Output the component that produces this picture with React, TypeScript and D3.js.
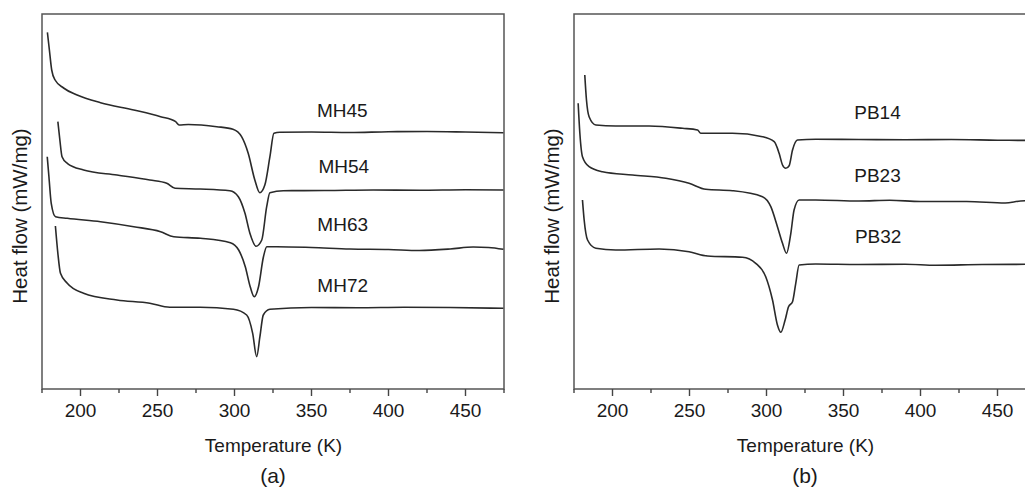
import React from "react";
import * as d3 from "d3";

type Pt = [number, number];

// Temperature (K) vs heat flow (arbitrary offset units, curves stacked)
const mh45: Pt[] = [
  [178.5, 356.7], [179.8, 339], [181.3, 319], [183.5, 309], [189, 301], [197.8, 294],
  [213, 286.3], [234.6, 279], [252, 272.3], [261.8, 267.3], [264, 264], [270, 264.5],
  [288.5, 262.3], [299, 259.7], [304.6, 252.3], [308.9, 235.7], [313.2, 209], [316.4, 196.3],
  [319.7, 204], [323, 232.3], [325.6, 255.7], [329.5, 256.7], [350, 257], [375, 256.5],
  [400, 257.3], [425, 257.5], [450, 257], [474.6, 256.3],
];
const mh54: Pt[] = [
  [185.3, 267.3], [186.6, 249], [188, 232.3], [191.4, 225.7], [202, 219], [223.7, 214],
  [245, 209], [256, 205.7], [261.4, 200.7], [277.7, 200], [297, 198.3], [302.5, 192.3],
  [306.8, 175.7], [310, 155.7], [314, 142.7], [317.7, 149], [320.9, 182.3], [323, 196.3],
  [331.7, 198.3], [360, 198.5], [390, 199], [420, 198.7], [450, 199.2], [474.6, 199],
];
const mh63: Pt[] = [
  [178.4, 232.3], [179.5, 212.3], [181, 185.7], [183.8, 172.3], [191.4, 170.7], [213, 167.3],
  [234.6, 162.3], [252, 157.3], [260.6, 152.3], [277.9, 150.7], [297.3, 146.3], [302.7, 139],
  [307, 122.3], [310.2, 102.3], [312.8, 92.3], [315.6, 102.3], [318.8, 132.3], [321, 142.3],
  [327.5, 142.3], [350, 141.5], [375, 140], [400, 139.5], [420, 138.5], [440, 140],
  [455, 142], [465, 141.5], [474.6, 139.7],
];
const mh72: Pt[] = [
  [183.7, 163], [185.3, 135.7], [187, 115.7], [191.4, 105.7], [202, 95.7], [223.7, 89],
  [245, 85.7], [258, 81.7], [277.7, 81.7], [299.3, 79.7], [307.9, 74], [311.8, 55.7],
  [314.4, 32.3], [316.5, 52.3], [318.7, 74], [323, 79.7], [350, 81.5], [380, 81.3],
  [410, 81.8], [440, 81.5], [474.6, 80.7],
];

const pb14: Pt[] = [
  [182, 314], [183.1, 289], [184.8, 272.3], [189.2, 264], [202.1, 263], [223.8, 263],
  [245.5, 260.7], [255.2, 259], [257.3, 255.7], [277.9, 255.7], [297.4, 252.3], [305, 247.3],
  [308.2, 235.7], [310.4, 224], [312.5, 220.7], [314.7, 223.3], [316.9, 239], [320.1, 249],
  [332, 249.7], [360, 249.5], [390, 249.2], [420, 249.5], [450, 248.8], [475, 248.5],
];
const pb23: Pt[] = [
  [177.7, 285.7], [178.8, 255.7], [180.5, 232.3], [184.8, 222.3], [193.5, 217.3], [213, 214],
  [234.6, 210.7], [249.7, 205.7], [260.6, 199.7], [277.9, 198.3], [297.4, 192.3], [302.8, 182.3],
  [307.1, 162.3], [310.4, 145.7], [313, 135.7], [315.8, 155.7], [317.9, 179], [321.2, 189],
  [332, 189], [360, 188], [380, 188.7], [400, 187.5], [430, 187.5], [455, 186],
  [465, 188], [475, 188.5],
];
const pb32: Pt[] = [
  [180.5, 189], [181.6, 169], [183.8, 149], [189.2, 140.7], [202.1, 139], [230.3, 140],
  [249.7, 137.3], [261.7, 133], [284.4, 131.7], [293, 125.7], [299.5, 112.3], [303.9, 89],
  [307.1, 64], [309.3, 56.7], [312.1, 69], [314.3, 82.3], [316.9, 87.3], [319, 105.7],
  [321.2, 124], [332, 125], [360, 124.5], [390, 124.8], [410, 123.8], [440, 124.5], [475, 124.7],
];

const seriesA = [
  { name: "MH45", data: mh45, label: [353.5, 272.3] as Pt },
  { name: "MH54", data: mh54, label: [354.5, 216.3] as Pt },
  { name: "MH63", data: mh63, label: [353.8, 158] as Pt },
  { name: "MH72", data: mh72, label: [353.8, 97.3] as Pt },
];
const seriesB = [
  { name: "PB14", data: pb14, label: [357, 269.7] as Pt },
  { name: "PB23", data: pb23, label: [357, 207.3] as Pt },
  { name: "PB32", data: pb32, label: [357.4, 146.3] as Pt },
];

const majorTicks = [200, 250, 300, 350, 400, 450];
const minorTicks = [175, 225, 275, 325, 375, 425, 475];
const xDomain: [number, number] = [175, 475];
const yDomain: [number, number] = [0, 375];

const FONT = "'Liberation Sans', Arial, Helvetica, sans-serif";
const TEXT = "#1a1a1a";

function Panel({ left, series, tag }: { left: number; series: typeof seriesA; tag: string }) {
  const width = 462;
  const top = 14;
  const bottom = 389;
  const x = d3.scaleLinear().domain(xDomain).range([left, left + width]);
  const y = d3.scaleLinear().domain(yDomain).range([bottom, top]);
  const line = d3
    .line<Pt>()
    .x((d) => x(d[0]))
    .y((d) => y(d[1]))
    .curve(d3.curveMonotoneX);
  return (
    <g>
      <rect x={left} y={top} width={width} height={bottom - top} fill="none" stroke="#555" strokeWidth={1.5} />
      {majorTicks.map((t) => (
        <g key={"M" + t}>
          <line x1={x(t)} x2={x(t)} y1={bottom} y2={bottom + 7} stroke="#444" strokeWidth={1.4} />
          <text x={x(t)} y={417} textAnchor="middle" fontSize={19} fontFamily={FONT} fill={TEXT}>
            {t}
          </text>
        </g>
      ))}
      {minorTicks.map((t) => (
        <line key={"m" + t} x1={x(t)} x2={x(t)} y1={bottom} y2={bottom + 4} stroke="#444" strokeWidth={1.4} />
      ))}
      {series.map((s) => (
        <g key={s.name}>
          <path d={line(s.data) || ""} fill="none" stroke="#2a2a2a" strokeWidth={1.6} strokeLinejoin="round" />
          <text x={x(s.label[0])} y={y(s.label[1])} fontSize={19} fontFamily={FONT} fill={TEXT}>
            {s.name}
          </text>
        </g>
      ))}
      <text x={left - 42 + 273.5} y={452} textAnchor="middle" fontSize={19} fontFamily={FONT} fill={TEXT}>
        Temperature (K)
      </text>
      <text x={left - 42 + 273} y={483} textAnchor="middle" fontSize={21} fontFamily={FONT} fill={TEXT}>
        {tag}
      </text>
      <text
        transform={`translate(${left - 15},216) rotate(-90)`}
        textAnchor="middle"
        fontSize={20.5}
        fontFamily={FONT}
        fill={TEXT}
      >
        Heat flow (mW/mg)
      </text>
    </g>
  );
}

export default function App() {
  return (
    <svg
      width={1025}
      height={487}
      style={{ position: "absolute", left: 0, top: 0, background: "#fff" }}
    >
      <rect x={0} y={0} width={1025} height={487} fill="#fff" />
      <Panel left={42} series={seriesA} tag="(a)" />
      <Panel left={574} series={seriesB} tag="(b)" />
    </svg>
  );
}
